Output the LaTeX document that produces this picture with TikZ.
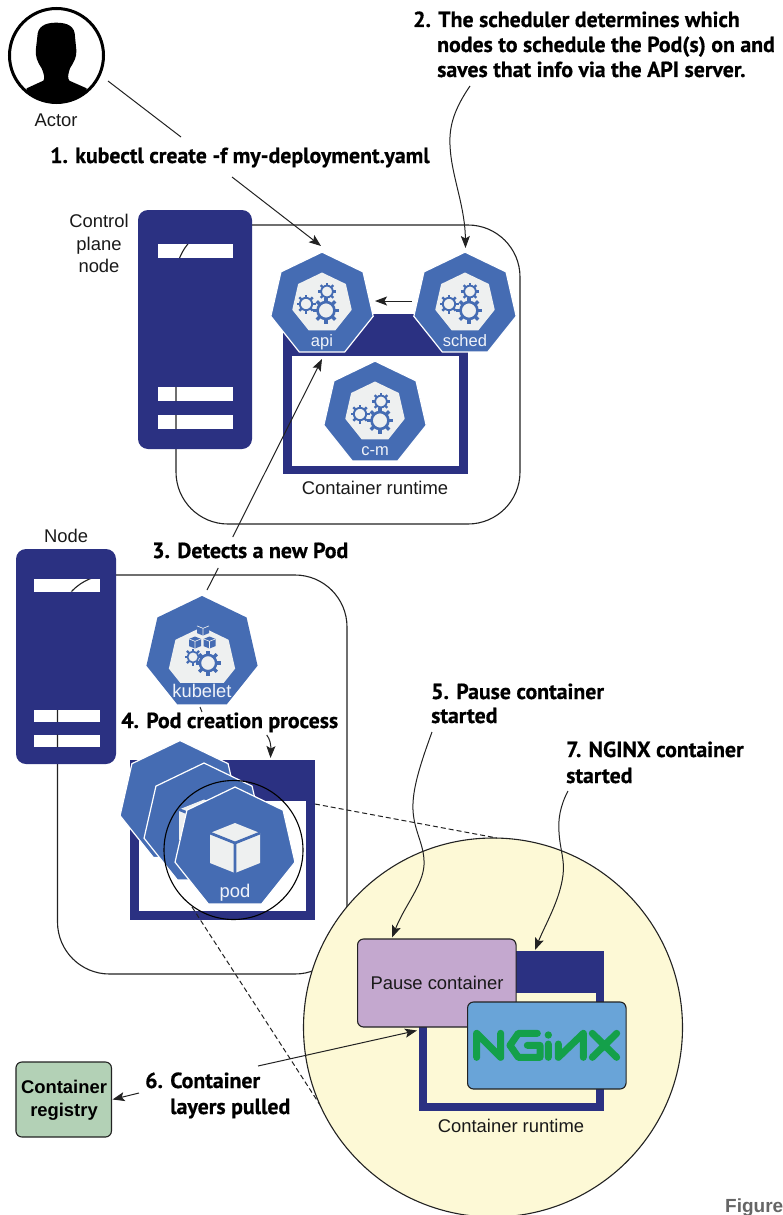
\documentclass[tikz,border=0pt]{standalone}
\usepackage{fontspec}
\setmainfont{Liberation Sans}
\newfontfamily\stepfont[BoldFeatures={FakeBold=0.6}]{PT Sans}
\usetikzlibrary{shapes.geometric,arrows.meta}
\definecolor{navy}{HTML}{2B3182}
\definecolor{kblue}{HTML}{456CB3}
\definecolor{klight}{HTML}{EEF0F0}
\definecolor{kyellow}{HTML}{FDF9D6}
\definecolor{kpurple}{HTML}{C4A8CF}
\definecolor{kcyan}{HTML}{69A4D8}
\definecolor{kgreen}{HTML}{B3D1B6}
\definecolor{ngx}{HTML}{14A04A}
\definecolor{ink}{HTML}{222222}
\tikzset{
  hept/.style={regular polygon,regular polygon sides=7,fill=kblue,draw=white,line width=1.2pt,inner sep=0pt,outer sep=0pt,minimum size=#1},
  heptin/.style={regular polygon,regular polygon sides=7,fill=klight,inner sep=0pt,outer sep=0pt,minimum size=#1},
  server/.style={fill=navy,rounded corners=10pt},
  slot/.style={fill=white},
  frame/.style={draw=ink,line width=1.1pt,rounded corners=52pt},
  plain/.style={font=\fontsize{18.4pt}{22pt}\selectfont,inner sep=0pt,text=black!90},
  kname/.style={font=\fontsize{16.5pt}{20pt}\selectfont,inner sep=0pt,text=white!92!kblue,anchor=base},
  steptext/.style={font=\stepfont\bfseries\fontsize{21.8pt}{25pt}\selectfont,inner sep=0pt,anchor=base west,text=black},
  conn/.style={draw=ink,line width=1pt},
  tip/.style={conn,-{Stealth[length=12pt,width=9pt,inset=2.5pt]}},
  dashline/.style={draw=ink,line width=1pt,dash pattern=on 5pt off 3pt},
  rtbox/.style={fill=navy},
}
\newcommand\kgear[3]{%
  \begin{scope}[shift={(#1,#2)}]
    \foreach \a in {0,45,...,315}{\draw[kblue,line width=.26*#3pt] (\a:.7*#3) -- (\a:#3);}
    \draw[kblue,fill=klight,line width=.2*#3pt] (0,0) circle[radius=.65*#3];
  \end{scope}}
\newcommand\kgears[2]{%
  \begin{scope}[shift={(#1,#2)}]
    \kgear{-16}{0}{9.5}\kgear{5}{-12.5}{9}\kgear{4}{6.5}{13}
  \end{scope}}
\newcommand\kcube[5]{% x y size fill line
  \begin{scope}[shift={(#1,#2)},scale=#3]
    \fill[#4] (0,-1)--(1,-.6)--(1,.6)--(0,1)--(-1,.6)--(-1,-.6)--cycle;
    \draw[#5,line width=#3*.11pt] (-1,-.6)--(0,-.2)--(1,-.6) (0,-.2)--(0,1);
  \end{scope}}
\begin{document}
\begin{tikzpicture}[x=1pt,y=-1pt]
\useasboundingbox (0,0) rectangle (783,1215);
% actor
\begin{scope}
  \clip (56.5,55.5) circle[radius=47];
  \begin{scope}[scale=1/3]
    \fill[black] (168,68) .. controls (205,68) and (225,80) .. (225,110) -- (229,150)
      .. controls (231,170) and (222,185) .. (210,205) .. controls (203,225) and (203,235) .. (208,242)
      -- (260,265) -- (260,340) -- (80,340) -- (80,265) -- (130,242)
      .. controls (135,235) and (133,225) .. (125,205) .. controls (112,185) and (105,170) .. (108,145)
      -- (112,110) .. controls (112,80) and (135,68) .. (168,68) -- cycle;
  \end{scope}
\end{scope}
\node[circle,draw=black,line width=3pt,minimum size=94pt,inner sep=0pt,outer sep=0pt] (actor) at (56.5,55.5) {};
\node[plain,anchor=base] (actorlab) at (56,126) {Actor};
% control plane
\draw[frame] (176,225) rectangle (520,524);
\fill[server] (138,210) rectangle (252,449);
\fill[slot] (158,244) rectangle (233,258);
\fill[slot] (158,387) rectangle (233,401);
\fill[slot] (158,415) rectangle (233,429);
\begin{scope}
  \clip (158,244) rectangle (233,258) (158,387) rectangle (233,401) (158,415) rectangle (233,429);
  \draw[frame] (176,225) rectangle (520,524);
\end{scope}
\node[plain,anchor=base] (cp1) at (99,227) {Control};
\node[plain,anchor=base] (cp2) at (99,250) {plane};
\node[plain,anchor=base] (cp3) at (99,272) {node};
\fill[rtbox] (283,314) rectangle (468,474);
\fill[white] (292,356) rectangle (459,466);
\node[plain,anchor=base] (rt1) at (375,494) {Container runtime};
\node[hept=105pt] (api) at (322,304.6) {};
\node[heptin=61pt] (apii) at (322,303) {};
\kgears{322}{304}
\node[kname] (apil) at (322,346) {api};
\node[hept=105pt] (sched) at (465,304.6) {};
\node[heptin=61pt] at (465,303) (schedi) {};
\kgears{465}{304}
\node[kname] (schedl) at (465,346) {sched};
\node[hept=105pt] (cm) at (375,413.6) {};
\node[heptin=61pt] (cmi) at (375,412) {};
\kgears{376}{414}
\node[kname] (cml) at (375,455) {c-m};
% worker node
\draw[frame] (57.5,575) rectangle (347,974);
\fill[server] (16,549) rectangle (116,764);
\fill[slot] (34,579) rectangle (100,591.5);
\fill[slot] (34,710) rectangle (100,722);
\fill[slot] (34,734.5) rectangle (100,747);
\begin{scope}
  \clip (34,579) rectangle (100,591.5) (34,710) rectangle (100,722) (34,734.5) rectangle (100,747);
  \draw[frame] (57.5,575) rectangle (347,974);
\end{scope}
\node[plain,anchor=base] (nodelab) at (66,542) {Node};
\node[hept=114pt,draw=none] (kubelet) at (202,653) {};
\begin{scope}
  \clip (150,600) rectangle (254,682);
  \node[heptin=68pt] (kubeleti) at (202,661) {};
\end{scope}
\kcube{203}{629.5}{6}{kblue}{klight}
\kcube{195}{642.5}{6}{kblue}{klight}
\kcube{209.5}{642.5}{6}{kblue}{klight}
\kgear{193}{657}{8.5}\kgear{208}{663}{12.5}
\node[kname,font=\fontsize{18.3pt}{20pt}\selectfont] (kubeletl) at (202,697) {kubelet};
% pod runtime
\fill[rtbox] (130,760) rectangle (315,920);
\fill[white] (139,801) rectangle (306,911);
\node[hept=123pt] (pod1) at (180,802) {};
\kcube{180}{802}{25}{klight}{kblue}
\node[hept=123pt] (pod2) at (204,824.5) {};
\kcube{204}{824.5}{25}{klight}{kblue}
\node[hept=123pt] (pod3) at (235,848.5) {};
\kcube{235}{848}{25}{klight}{kblue}
\node[kname,font=\fontsize{18.4pt}{20pt}\selectfont] (podl) at (235,897) {pod};
% zoom callout
\node[circle,draw=black,line width=1.1pt,minimum size=139pt,inner sep=0pt,outer sep=0pt] (lens) at (233.5,850) {};
\coordinate (d1a) at (315,804);
\coordinate (d1b) at (497,838);
\coordinate (d2a) at (192,907);
\coordinate (d2b) at (322,1108);
\draw[dashline] (d2a) -- (d2b);
\fill[kyellow] (493,1027.5) circle[radius=189.5];
\draw[ink,line width=1.1pt] (493,1027.5) circle[radius=189.5];
\draw[dashline] (d1a) -- (d1b);
\fill[rtbox] (419,951) rectangle (604,1111);
\fill[kyellow] (427,993) rectangle (596,1103);
\node[plain,anchor=base] (rt2) at (511,1132) {Container runtime};
\node[plain,draw=ink,line width=1.1pt,fill=kpurple,rounded corners=6pt,minimum width=158.5pt,minimum height=88pt,outer sep=0pt] (pause) at (436.8,983) {};
\node[plain,anchor=base] (pausel) at (437,989) {Pause container};
\node[draw=ink,line width=1.1pt,fill=kcyan,rounded corners=6pt,minimum width=158.5pt,minimum height=87pt,inner sep=0pt,outer sep=0pt] (nginx) at (546.8,1045.5) {};
\begin{scope}[shift={(340,920)},scale=1/3]
  \draw[ngx,line width=7pt,line cap=round,line join=round]
    (410,412) -- (410,340) -- (482,412) -- (482,340)
    (592,340) -- (535,340) -- (510,376) -- (535,412) -- (600,412) -- (600,376) -- (562,376)
    (625,372) -- (625,412)
    (655,372) -- (655,412) -- (730,340) -- (730,412)
    (757,340) -- (830,412) (830,340) -- (757,412);
  \fill[ngx] (625,345) circle[radius=11];
\end{scope}
\node[draw=ink,line width=1.1pt,fill=kgreen,rounded corners=6pt,minimum width=95.5pt,minimum height=75pt,inner sep=0pt,outer sep=0pt] (registry) at (63.7,1099.5) {};
\node[plain,font=\bfseries\fontsize{18.4pt}{22pt}\selectfont,anchor=base,text=black] (reg1) at (64,1093) {Container};
\node[plain,font=\bfseries\fontsize{18.4pt}{22pt}\selectfont,anchor=base,text=black] (reg2) at (64,1116) {registry};
% step labels
\node[steptext] (s1) at (50,163) {1. kubectl create -f my-deployment.yaml};
\node[steptext] (s2a) at (413,27) {2. The scheduler determines which};
\node[steptext] (s2b) at (437,52) {nodes to schedule the Pod(s) on and};
\node[steptext] (s2c) at (437,77) {saves that info via the API server.};
\node[steptext] (s3) at (152,558) {3. Detects a new Pod};
\node[steptext] (s4) at (121,728) {4. Pod creation process};
\node[steptext] (s5a) at (431,699) {5. Pause container};
\node[steptext] (s5b) at (431,723) {started};
\node[steptext] (s7a) at (566,757) {7. NGINX container};
\node[steptext] (s7b) at (566,783) {started};
\node[steptext] (s6a) at (145,1088) {6. Container};
\node[steptext] (s6b) at (170,1114) {layers pulled};
\node[font=\bfseries\fontsize{19pt}{22pt}\selectfont,text=black!60,inner sep=0pt,anchor=base west] (fig) at (725,1212) {Figure};
% connectors
\coordinate (a1) at (108,81); \coordinate (a2) at (181,137);
\draw[conn] (a1) -- (a2);
\coordinate (b1) at (232,177); \coordinate (b2) at (321,246);
\draw[tip] (b1) -- (b2);
\coordinate (c1) at (470,86); \coordinate (c2) at (450,145); \coordinate (c3) at (465.5,248);
\draw[tip] (c1) .. controls (455,108) and (449,125) .. (c2) .. controls (451,175) and (465,205) .. (c3);
\coordinate (e1) at (412,301); \coordinate (e2) at (375,301);
\draw[tip] (e1) -- (e2);
\coordinate (f1) at (207,590); \coordinate (f2) at (218.3,568);
\draw[conn] (f1) -- (f2);
\coordinate (f3) at (232.7,537); \coordinate (f4) at (322,359);
\draw[tip] (f3) -- (f4);
\coordinate (g1) at (200,707); \coordinate (g2) at (202,712);
\draw[conn] (g1) -- (g2);
\coordinate (g3) at (266.7,735); \coordinate (g4) at (270.5,758);
\draw[tip] (g3) .. controls (270,739) and (271,745) .. (g4);
\coordinate (h1) at (432,732); \coordinate (h2) at (413,810); \coordinate (h3) at (424,865); \coordinate (h4) at (392,937.5);
\draw[tip] (h1) .. controls (420,765) and (412,790) .. (h2) .. controls (414,832) and (425,845) .. (h3) .. controls (423,885) and (405,905) .. (h4);
\coordinate (i1) at (568,791); \coordinate (i2) at (559,832); \coordinate (i3) at (563,875); \coordinate (i4) at (535,950);
\draw[tip] (i1) .. controls (560,806) and (558,820) .. (i2) .. controls (560,850) and (565,860) .. (i3) .. controls (560,900) and (545,925) .. (i4);
\coordinate (j1) at (258,1066); \coordinate (j2) at (417,1030.5);
\draw[tip] (j1) -- (j2);
\coordinate (k1) at (139,1093); \coordinate (k2) at (112.5,1099.5);
\draw[tip] (k1) -- (k2);
\end{tikzpicture}
\end{document}
